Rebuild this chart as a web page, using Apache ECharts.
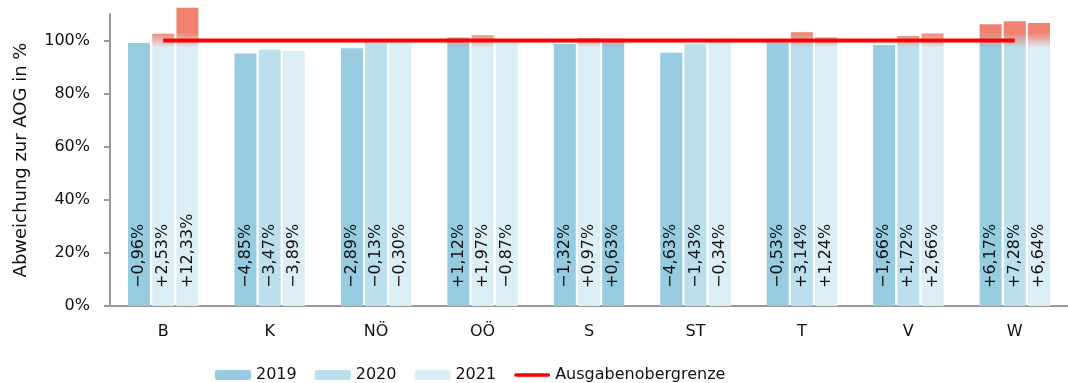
<!DOCTYPE html>
<html>
<head>
<meta charset="utf-8">
<script src="https://cdn.jsdelivr.net/npm/echarts@6/dist/echarts.min.js"></script>
<style>
  html, body { margin: 0; padding: 0; background: #fff; }
  #chart { width: 1068px; height: 383px; }
</style>
</head>
<body>
<div id="chart"></div>
<script>
// Bundesländer
const categories = ['B', 'K', 'NÖ', 'OÖ', 'S', 'ST', 'T', 'V', 'W'];
// Abweichung zur Ausgabenobergrenze in Prozentpunkten
const dev2019 = [-0.96, -4.85, -2.89, 1.12, -1.32, -4.63, -0.53, -1.66, 6.17];
const dev2020 = [2.53, -3.47, -0.13, 1.97, 0.97, -1.43, 3.14, 1.72, 7.28];
const dev2021 = [12.33, -3.89, -0.30, -0.87, 0.63, -0.34, 1.24, 2.66, 6.64];
// Ausgabenobergrenze (100 %)
const aogLine = [100, 100, 100, 100, 100, 100, 100, 100, 100];
const yTicks = [0, 20, 40, 60, 80, 100];

const FONT = 'DejaVu Sans';
const DARK = '#96CBE0', MID = '#BBDFEC', LIGHT = '#DCEEF5';
const OVER = '#F0826F';
// shade used for each year; a few bars are drawn in a different shade
const seriesShade = { '2019': DARK, '2020': MID, '2021': LIGHT };
const shadeOverride = {
  'B|2020': LIGHT, 'OÖ|2020': LIGHT, 'S|2020': LIGHT, 'S|2021': DARK
};

function hexToRgb(h) {
  const n = parseInt(h.slice(1), 16);
  return [(n >> 16) & 255, (n >> 8) & 255, n & 255];
}
function mix(c1, c2, t) {
  const a = hexToRgb(c1), b = hexToRgb(c2);
  const r = a.map((v, i) => Math.round(v * t + b[i] * (1 - t)));
  return 'rgb(' + r.join(',') + ')';
}

// bar above the limit: overflow part fades from salmon into the bar colour
function barItem(dev, shade) {
  const v = +(100 + dev).toFixed(2);
  let color = shade;
  if (v > 100) {
    const hi = 103, lo = 97.3;
    const pos = val => Math.min(1, Math.max(0, (v - val) / v));
    const stops = [];
    if (v > hi) {
      stops.push({ offset: 0, color: OVER });
      stops.push({ offset: pos(hi), color: OVER });
    } else {
      stops.push({ offset: 0, color: mix(OVER, shade, (v - lo) / (hi - lo)) });
    }
    stops.push({ offset: pos(lo), color: shade });
    stops.push({ offset: 1, color: shade });
    color = new echarts.graphic.LinearGradient(0, 0, 0, 1, stops);
  }
  return { value: v, itemStyle: { color: color } };
}

function fmtDev(d) {
  return (d >= 0 ? '+' : '\u2212') + Math.abs(d).toFixed(2).replace('.', ',') + '%';
}

function barSeries(name, devs) {
  return {
    name: name,
    type: 'bar',
    clip: false,
    barWidth: 22,
    barGap: '10%',
    itemStyle: { color: seriesShade[name] },
    data: devs.map((d, i) =>
      barItem(d, shadeOverride[categories[i] + '|' + name] || seriesShade[name])),
    label: {
      show: true,
      position: 'insideBottom',
      distance: 18,
      rotate: 90,
      align: 'left',
      verticalAlign: 'middle',
      fontFamily: FONT,
      fontSize: 16,
      color: '#111',
      formatter: p => fmtDev(devs[p.dataIndex])
    },
    emphasis: { disabled: true }
  };
}

const chart = echarts.init(document.getElementById('chart'), null, { renderer: 'canvas' });
chart.setOption({
  animation: false,
  textStyle: { fontFamily: FONT },
  grid: { left: 110, right: -9, top: 14, bottom: 77, containLabel: false },
  legend: {
    left: 210,
    top: 362,
    itemWidth: 36,
    itemHeight: 10,
    itemGap: 18,
    textStyle: { fontFamily: FONT, fontSize: 16, color: '#111' },
    data: [
      '2019', '2020', '2021',
      { name: 'Ausgabenobergrenze', icon: 'path://M2,0H38A2,2,0,0,1,38,4H2A2,2,0,0,1,2,0Z' }
    ]
  },
  xAxis: {
    type: 'category',
    data: categories,
    axisLine: { lineStyle: { color: '#999', width: 2 } },
    axisTick: { length: 7, lineStyle: { color: '#999', width: 2 } },
    axisLabel: { color: '#111', fontSize: 16, fontFamily: FONT, margin: 18 }
  },
  yAxis: {
    type: 'value',
    min: 0,
    max: 110,
    interval: 20,
    name: 'Abweichung zur AOG in %',
    nameLocation: 'middle',
    nameGap: 80,
    nameTextStyle: { fontFamily: FONT, fontSize: 18, color: '#111' },
    splitLine: { show: false },
    axisLine: { show: true, lineStyle: { color: '#999', width: 2 } },
    axisTick: { show: true, length: 6, customValues: yTicks, lineStyle: { color: '#999', width: 2 } },
    axisLabel: {
      customValues: yTicks,
      color: '#111', fontSize: 16, fontFamily: FONT, margin: 20,
      formatter: v => v + '%'
    }
  },
  series: [
    barSeries('2019', dev2019),
    barSeries('2020', dev2020),
    barSeries('2021', dev2021),
    {
      name: 'Ausgabenobergrenze',
      type: 'line',
      data: aogLine,
      symbol: 'none',
      z: 5,
      lineStyle: { color: '#FF0000', width: 4 },
      itemStyle: { color: '#FF0000' },
      emphasis: { disabled: true }
    }
  ]
});
</script>
</body>
</html>
